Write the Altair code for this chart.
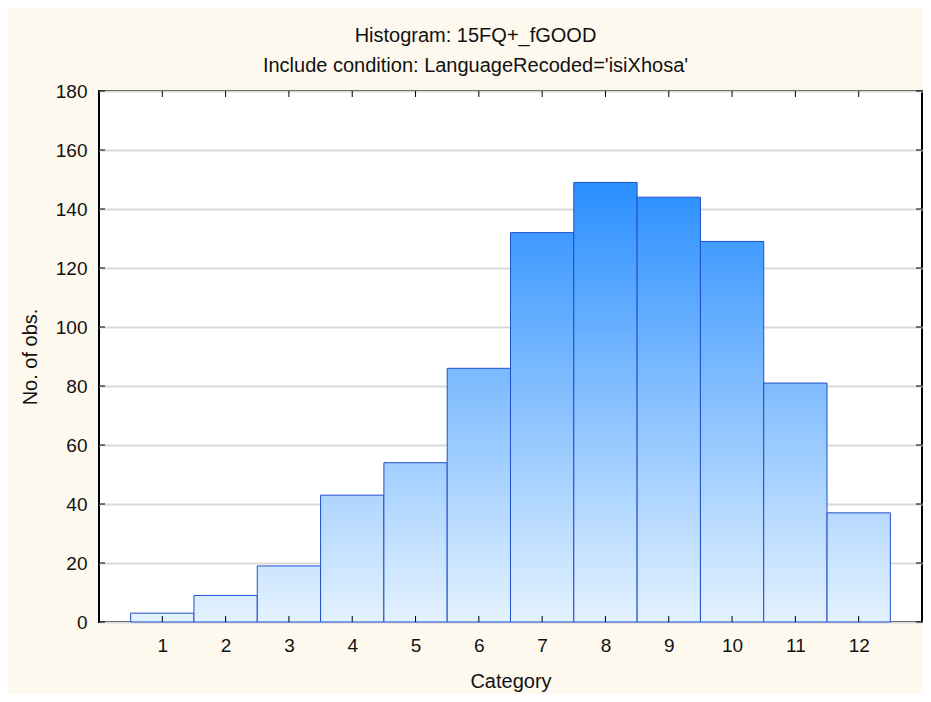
import altair as alt
import pandas as pd

categories = [1, 2, 3, 4, 5, 6, 7, 8, 9, 10, 11, 12]
counts = [3, 9, 19, 43, 54, 86, 132, 149, 144, 129, 81, 37]
y_ticks = [0, 20, 40, 60, 80, 100, 120, 140, 160, 180]

df = pd.DataFrame({"cat": categories, "n": counts})
ticks_df = pd.DataFrame({"t": y_ticks})

W, H = 823, 531
FONT = "Liberation Sans"
LBL = 19
TTL = 20

bottom_rgb = (0xE4, 0xF2, 0xFF)
top_rgb = (0x2A, 0x8F, 0xFF)
vmax = max(counts)


def mix(t):
    return "#%02x%02x%02x" % tuple(int(round(b + (a - b) * t)) for a, b in zip(top_rgb, bottom_rgb))


x_scale = alt.Scale(domain=[0, 13], nice=False, zero=False)
y_scale = alt.Scale(domain=[0, 180], nice=False)

x_axis = alt.Axis(values=categories, ticks=False, domain=False, grid=False,
                  labelFont=FONT, labelFontSize=LBL, labelColor="#111", labelPadding=14,
                  title="Category", titleFont=FONT, titleFontSize=TTL, titleFontWeight="normal",
                  titleColor="#111", titlePadding=16)
y_axis = alt.Axis(values=y_ticks, ticks=False, domain=False, grid=True,
                  gridColor="#d9d9d9", gridWidth=2,
                  labelFont=FONT, labelFontSize=LBL, labelColor="#111", labelPadding=12,
                  title="No. of obs.", titleFont=FONT, titleFontSize=TTL, titleFontWeight="normal",
                  titleColor="#111", titlePadding=15)

layers = []
for c, v in zip(categories, counts):
    grad = alt.Gradient(
        gradient="linear",
        stops=[alt.GradientStop(color=mix(v / vmax), offset=0),
               alt.GradientStop(color=mix(0), offset=1)],
        x1=0, x2=0, y1=0, y2=1,
    )
    layer = (
        alt.Chart(df)
        .transform_filter(alt.datum.cat == c)
        .transform_calculate(x0="datum.cat - 0.5", x1="datum.cat + 0.5")
        .mark_bar(color=grad, stroke="#1f4fcc", strokeWidth=1)
        .encode(x=alt.X("x0:Q", scale=x_scale, axis=x_axis), x2="x1:Q",
                y=alt.Y("n:Q", scale=y_scale, axis=y_axis), y2=alt.datum(0))
    )
    layers.append(layer)

# inward tick marks on all four sides
left_ticks = alt.Chart(ticks_df).mark_rule(color="black", strokeWidth=1).encode(
    y=alt.Y("t:Q", scale=y_scale, axis=y_axis), x=alt.value(0), x2=alt.value(6))
right_ticks = alt.Chart(ticks_df).mark_rule(color="black", strokeWidth=1).encode(
    y=alt.Y("t:Q", scale=y_scale, axis=y_axis), x=alt.value(W - 6), x2=alt.value(W))
bottom_ticks = alt.Chart(df).mark_rule(color="black", strokeWidth=1).encode(
    x=alt.X("cat:Q", scale=x_scale, axis=x_axis), y=alt.value(H - 6), y2=alt.value(H))
top_ticks = alt.Chart(df).mark_rule(color="black", strokeWidth=1).encode(
    x=alt.X("cat:Q", scale=x_scale, axis=x_axis), y=alt.value(0), y2=alt.value(6))

chart = (
    alt.layer(*layers, left_ticks, right_ticks, bottom_ticks, top_ticks)
    .properties(
        width=W, height=H,
        autosize=alt.AutoSizeParams(type="none"),
        padding={"left": 91, "top": 83, "right": 1, "bottom": 72},
        background="#fef9ee",
        title=alt.Title(
            ["Histogram: 15FQ+_fGOOD", "Include condition: LanguageRecoded='isiXhosa'"],
            font=FONT, fontSize=TTL, fontWeight="normal", color="#111",
            lineHeight=30, anchor="middle", dx=-35, offset=6,
        ),
    )
    .configure_view(stroke="black", strokeWidth=2, fill="white")
)

chart.save("out.html", embed_options={"renderer": "svg", "actions": False})
